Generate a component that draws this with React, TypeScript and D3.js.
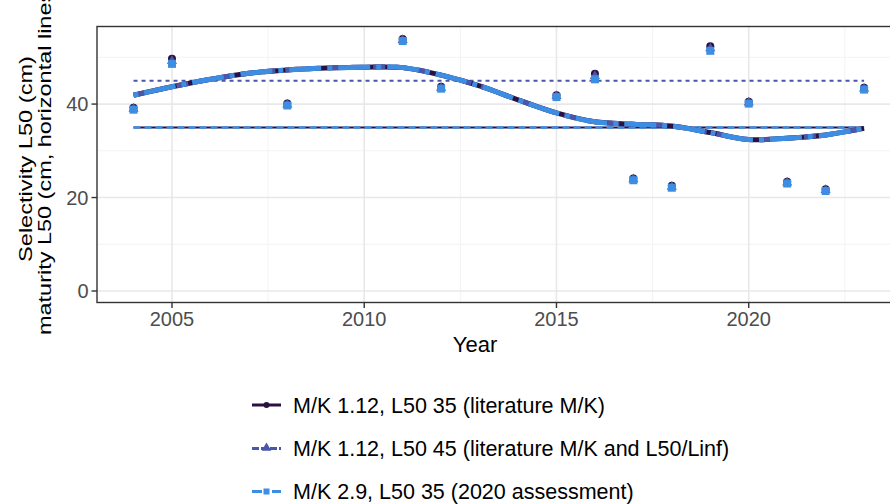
import { useRef, useEffect } from 'react';
import * as d3 from 'd3';

// point estimates by year
const years = [2004, 2005, 2008, 2011, 2012, 2015, 2016, 2017, 2018, 2019, 2020, 2021, 2022, 2023];
const selLitMK = [39.2, 49.7, 40.1, 53.9, 43.7, 41.9, 46.5, 24.1, 22.5, 52.4, 40.5, 23.4, 21.8, 43.5];
const selLitMKL50 = [39.0, 49.2, 39.9, 53.7, 43.5, 41.7, 46.0, 23.9, 22.3, 51.9, 40.3, 23.2, 21.6, 43.3];
const sel2020 = [38.8, 48.6, 39.7, 53.5, 43.3, 41.5, 45.3, 23.7, 22.1, 51.4, 40.1, 23.0, 21.4, 43.1];

// smoothed trend, every year
const smoothYears = d3.range(2004, 2024);
const smoothLitMK = [41.9, 43.7, 45.3, 46.6, 47.3, 47.7, 47.9, 47.8, 46.2, 43.9, 40.9, 38.1, 36.2, 35.7, 35.3, 33.9, 32.4, 32.7, 33.4, 34.8];
const smoothLitMKL50 = [41.9, 43.7, 45.3, 46.6, 47.3, 47.7, 47.9, 47.8, 46.2, 43.9, 40.9, 38.1, 36.2, 35.7, 35.3, 33.9, 32.4, 32.7, 33.4, 34.8];
const smooth2020 = [41.9, 43.7, 45.3, 46.6, 47.3, 47.7, 47.9, 47.8, 46.2, 43.9, 40.9, 38.1, 36.2, 35.7, 35.3, 33.9, 32.4, 32.7, 33.4, 34.8];

// maturity L50 (horizontal lines)
const maturityL50 = [35, 45, 35];

const labels = [
  'M/K 1.12, L50 35 (literature M/K)',
  'M/K 1.12, L50 45 (literature M/K and L50/Linf)',
  'M/K 2.9, L50 35 (2020 assessment)',
];
const colors = ['#2a1140', '#4a56a8', '#3d8ee3'];
const xTicks = [2005, 2010, 2015, 2020];
const yTicks = [0, 20, 40];

const W = 890;
const H = 504;
const FONT = '"Liberation Sans", Arial, sans-serif';

const App = () => {
  const ref = useRef<SVGSVGElement | null>(null);

  useEffect(() => {
    document.body.style.margin = '0';
    const svg = d3.select(ref.current);
    svg.selectAll('*').remove();

    const left = 97;
    const top = 26.5;
    const bottom = 302.5;
    const right = 900.6;

    const x = d3.scaleLinear().domain([2003.05, 2023.95]).range([left, right]);
    const y = d3.scaleLinear().domain([-2.46, 56.6]).range([bottom, top]);

    svg.append('rect').attr('width', W).attr('height', H).attr('fill', '#fff');

    const grid = svg.append('g');
    // minor grid
    [10, 30, 50].forEach(v => {
      grid.append('line').attr('x1', left).attr('x2', right).attr('y1', y(v)).attr('y2', y(v))
        .attr('stroke', '#f3f3f3').attr('stroke-width', 1);
    });
    [2007.5, 2012.5, 2017.5, 2022.5].forEach(v => {
      grid.append('line').attr('y1', top).attr('y2', bottom).attr('x1', x(v)).attr('x2', x(v))
        .attr('stroke', '#f3f3f3').attr('stroke-width', 1);
    });
    // major grid
    yTicks.forEach(v => {
      grid.append('line').attr('x1', left).attr('x2', right).attr('y1', y(v)).attr('y2', y(v))
        .attr('stroke', '#e8e8e8').attr('stroke-width', 1.6);
    });
    xTicks.forEach(v => {
      grid.append('line').attr('y1', top).attr('y2', bottom).attr('x1', x(v)).attr('x2', x(v))
        .attr('stroke', '#e8e8e8').attr('stroke-width', 1.6);
    });

    const smoothSeries = [smoothLitMK, smoothLitMKL50, smooth2020];
    const pointSeries = [selLitMK, selLitMKL50, sel2020];
    const dashes = [null, '12,10', '5,6,32,6'];
    const hDashes = [null, '4,4', '7,4'];
    const hWidths = [2, 2, 2.6];

    const line = d3.line<number>()
      .x((d, i) => x(smoothYears[i]))
      .y(d => y(d))
      .curve(d3.curveCatmullRom.alpha(0.5));

    // maturity lines
    maturityL50.forEach((m, i) => {
      svg.append('line')
        .attr('x1', x(years[0])).attr('x2', x(years[years.length - 1]))
        .attr('y1', y(m)).attr('y2', y(m))
        .attr('stroke', colors[i])
        .attr('stroke-width', hWidths[i])
        .attr('stroke-dasharray', hDashes[i]);
    });

    // smoothed curves
    smoothSeries.forEach((s, i) => {
      svg.append('path')
        .datum(s)
        .attr('d', line)
        .attr('fill', 'none')
        .attr('stroke', colors[i])
        .attr('stroke-width', 5)
        .attr('stroke-dasharray', dashes[i]);
    });

    // points
    const tri = d3.symbol().type(d3.symbolTriangle).size(44);
    pointSeries.forEach((s, i) => {
      const g = svg.append('g').attr('fill', colors[i]);
      s.forEach((v, j) => {
        const cx = x(years[j]);
        const cy = y(v);
        if (i === 0) {
          g.append('circle').attr('cx', cx).attr('cy', cy).attr('r', 4);
        } else if (i === 1) {
          g.append('path').attr('d', tri()).attr('transform', `translate(${cx},${cy})`);
        } else {
          g.append('rect').attr('x', cx - 4).attr('y', cy - 4).attr('width', 8).attr('height', 8);
        }
      });
    });

    // panel border
    svg.append('rect').attr('x', left).attr('y', top).attr('width', right - left).attr('height', bottom - top)
      .attr('fill', 'none').attr('stroke', '#333').attr('stroke-width', 1.4);

    // ticks & labels
    const axes = svg.append('g').style('font-family', FONT);
    yTicks.forEach(v => {
      axes.append('line').attr('x1', left - 5.5).attr('x2', left).attr('y1', y(v)).attr('y2', y(v))
        .attr('stroke', '#333').attr('stroke-width', 1.4);
      axes.append('text').attr('x', left - 8.5).attr('y', y(v)).attr('dy', '0.35em')
        .attr('text-anchor', 'end').attr('fill', '#4d4d4d').style('font-size', '20px').text(v);
    });
    xTicks.forEach(v => {
      axes.append('line').attr('x1', x(v)).attr('x2', x(v)).attr('y1', bottom).attr('y2', bottom + 5.5)
        .attr('stroke', '#333').attr('stroke-width', 1.4);
      axes.append('text').attr('x', x(v)).attr('y', 326)
        .attr('text-anchor', 'middle').attr('fill', '#4d4d4d').style('font-size', '20px').text(v);
    });

    axes.append('text').attr('x', 475).attr('y', 352).attr('text-anchor', 'middle')
      .attr('fill', '#000').style('font-size', '22px').text('Year');

    // y title: two lines, stretched along the axis like the original
    const yt = axes.append('g').attr('transform', 'translate(0,159) rotate(-90)');
    yt.append('text').attr('x', 0).attr('y', 32)
      .attr('text-anchor', 'middle').attr('fill', '#000').style('font-size', '19px')
      .attr('textLength', 206).attr('lengthAdjust', 'spacingAndGlyphs')
      .text('Selectivity L50 (cm)');
    yt.append('text').attr('x', 0).attr('y', 51)
      .attr('text-anchor', 'middle').attr('fill', '#000').style('font-size', '19px')
      .attr('textLength', 352).attr('lengthAdjust', 'spacingAndGlyphs')
      .text('maturity L50 (cm, horizontal lines)');

    // legend
    const legend = svg.append('g').style('font-family', FONT);
    const rowY = [405, 448.5, 491.5];
    labels.forEach((lab, i) => {
      const cy = rowY[i];
      legend.append('line').attr('x1', 252).attr('x2', 281).attr('y1', cy).attr('y2', cy)
        .attr('stroke', colors[i]).attr('stroke-width', 3)
        .attr('stroke-dasharray', i === 0 ? null : i === 1 ? '7,2' : '10,4,2,4');
      if (i === 0) {
        legend.append('circle').attr('cx', 266.5).attr('cy', cy).attr('r', 3).attr('fill', colors[i]);
      } else if (i === 1) {
        legend.append('path').attr('d', d3.symbol().type(d3.symbolTriangle).size(40)())
          .attr('transform', `translate(266.5,${cy - 0.5})`).attr('fill', colors[i]);
      } else {
        legend.append('rect').attr('x', 263.5).attr('y', cy - 3).attr('width', 6).attr('height', 6).attr('fill', colors[i]);
      }
      legend.append('text').attr('x', 293).attr('y', cy).attr('dy', '0.36em')
        .attr('fill', '#000').style('font-size', '21.5px').text(lab);
    });
  }, []);

  return <svg ref={ref} width={W} height={H} style={{ display: 'block' }} />;
};

export default App;
